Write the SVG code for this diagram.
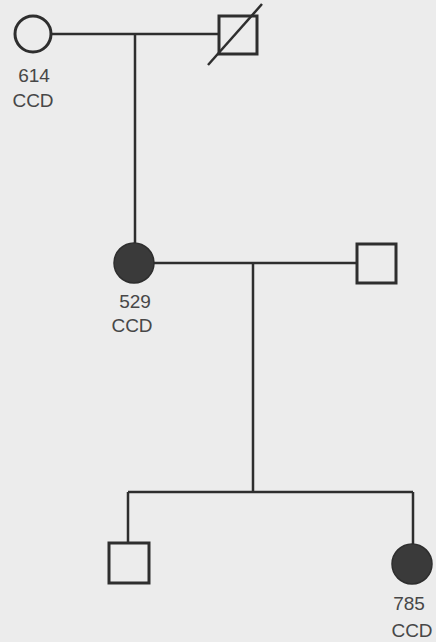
<svg xmlns="http://www.w3.org/2000/svg" width="436" height="642" viewBox="0 0 436 642">
<style>
.ln{stroke:#2e2e2e;stroke-width:2.5;fill:none}
.open{stroke:#2e2e2e;stroke-width:3;fill:none}
.aff{stroke:#2e2e2e;stroke-width:1.5;fill:#3a3a3a}
.lbl{font-family:"Liberation Sans",Arial,sans-serif;font-size:19px;fill:#474747;text-anchor:middle}
</style>
<rect width="436" height="642" fill="#ececec"/>
<g id="connectors">
<line class="ln" x1="51" y1="34" x2="219" y2="34"/>
<line class="ln" x1="135" y1="34" x2="135" y2="243"/>
<line class="ln" x1="153" y1="263" x2="357" y2="263"/>
<line class="ln" x1="253" y1="263" x2="253" y2="492"/>
<line class="ln" x1="128" y1="492" x2="413" y2="492"/>
<line class="ln" x1="128" y1="492" x2="128" y2="543"/>
<line class="ln" x1="413" y1="492" x2="413" y2="544"/>
</g>
<g id="n614">
<circle class="open" cx="33" cy="34" r="18"/>
<text class="lbl" x="34" y="82">614</text>
<text class="lbl" x="33" y="107">CCD</text>
</g>
<g id="partner1">
<rect class="open" x="219" y="16" width="38" height="38"/>
<line class="ln" x1="208" y1="65" x2="262" y2="4"/>
</g>
<g id="n529">
<circle class="aff" cx="134" cy="263" r="20"/>
<text class="lbl" x="135" y="308">529</text>
<text class="lbl" x="132" y="332">CCD</text>
</g>
<g id="partner2">
<rect class="open" x="357" y="244" width="39" height="39"/>
</g>
<g id="son">
<rect class="open" x="109" y="543" width="40" height="40"/>
</g>
<g id="n785">
<circle class="aff" cx="412" cy="564" r="20"/>
<text class="lbl" x="409" y="610">785</text>
<text class="lbl" x="412" y="637">CCD</text>
</g>
</svg>
